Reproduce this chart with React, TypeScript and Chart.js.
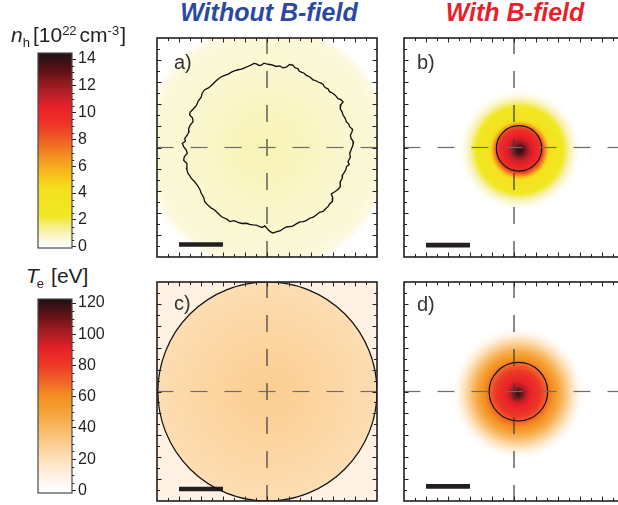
import React, { useEffect, useRef } from "react";
import { Chart, registerables } from "chart.js";

Chart.register(...registerables);
const FONT = "'Liberation Sans', Arial, Helvetica, sans-serif";
Chart.defaults.font.family = FONT;
const INK = "#231f20";

// ---------- colour scales ----------
const NH_STOP_VALUES = [0, 0.3, 1.3, 2.3, 4.3, 5.3, 6.3, 7.3, 8.5, 9.3, 10.3, 11.25, 12.3, 13.2, 14.2, 14.5];
const NH_STOP_COLORS = ["#ffffff", "#fdfbeb", "#f6f0a0", "#f2e723", "#f3e11f", "#f9c11a", "#f5a020", "#f07a22", "#ee4a26", "#ed3027", "#ec2228", "#c0202a", "#8a1a1e", "#5a1015", "#2a1215", "#1f1012"];
const TE_STOP_VALUES = [0, 10, 20, 30, 40, 50, 60, 70, 80, 90, 100, 110, 120, 123];
const TE_STOP_COLORS = ["#ffffff", "#fff0e0", "#fde0b9", "#fbcd8f", "#f8b863", "#f5a238", "#f49020", "#f06428", "#ee3a26", "#e82228", "#b01c22", "#701418", "#2d1113", "#1a1010"];

// colour bar ticks
const NH_TICKS = [0, 2, 4, 6, 8, 10, 12, 14];
const TE_TICKS = [0, 20, 40, 60, 80, 100, 120];
const NH_RANGE = [-0.1, 14.45];
const TE_RANGE = [-1.7, 122.6];

// panel axes (µm)
const AXIS_RANGE = [-50, 50];
const MAJOR_TICKS = [-40, -30, -20, -10, 0, 10, 20, 30, 40];
const MINOR_TICKS = [-45, -35, -25, -15, -5, 5, 15, 25, 35, 45];
const SCALE_BAR_X = [-40, -20];

// radial profiles (radius in µm -> value)
const PANEL_A_R = [0, 10, 20, 30, 40, 50, 54, 56, 57, 80];
const PANEL_A_NH = [1.0, 0.95, 0.85, 0.72, 0.62, 0.55, 0.45, 0.15, 0, 0];
const PANEL_B_R = [0, 1.5, 3, 5, 7, 9, 10.5, 11.5, 12.5, 13.5, 16, 19, 21, 23, 25, 26.5, 28, 80];
const PANEL_B_NH = [14.3, 13.5, 12.3, 11, 10.3, 9.5, 8.5, 7, 5.5, 4.3, 3.5, 2.6, 1.8, 1.0, 0.4, 0.1, 0, 0];
const PANEL_C_R = [0, 15, 30, 45, 49.6, 50.2, 60, 80];
const PANEL_C_TE = [29, 27.5, 25, 22.5, 21.5, 9, 8.5, 8];
const PANEL_D_R = [0, 1.5, 3, 4.5, 6.5, 9, 11, 13, 14.5, 16, 18, 20, 22, 24, 26, 28, 30, 80];
const PANEL_D_TE = [121, 112, 102, 94, 88, 84, 78, 70, 64, 58, 50, 42, 32, 22, 12, 4, 0, 0];

// centres and contour circles [cx, cy, r] in µm
const FIELD_CENTER_A = [0, 0];
const FIELD_CENTER_B = [2.6, -1.2];
const FIELD_CENTER_C = [0.2, 0];
const FIELD_CENTER_D = [1.9, -0.9];
const CIRCLE_B = [2.3, -0.4, 10.3];
const CIRCLE_C = [0.2, 0, 49.8];
const CIRCLE_D = [2.0, -0.1, 13.3];
const SCALE_BAR_Y = [-44.3, -44.6, -44.5, -43.3];

// irregular contour of panel a (µm)
const CONTOUR_A_X = [-4.8, -3.6, -2.6, -1.4, -0.3, 1.2, 2.7, 4.1, 5.8, 7.2, 8.8, 10.2, 11.8, 12.6, 14.1, 14.6, 15.6, 16.9, 17.9, 19.5, 20.9, 22.1, 23.2, 24.6, 25.5, 26.4, 27.7, 28.4, 29.7, 31.0, 32.3, 33.6, 34.6, 33.6, 33.3, 34.1, 34.6, 35.5, 36.1, 37.1, 37.6, 38.9, 38.6, 37.9, 38.2, 39.3, 39.1, 38.4, 37.6, 37.9, 36.8, 37.4, 36.1, 35.9, 35.3, 34.4, 34.2, 33.2, 33.3, 32.1, 30.8, 29.2, 29.9, 29.7, 28.6, 27.7, 26.5, 25.5, 23.9, 22.4, 20.8, 19.4, 17.8, 16.4, 14.9, 13.3, 11.7, 10.3, 8.8, 7.3, 6.1, 5.0, 3.8, 2.7, 1.5, 0.5, -0.4, -1.1, -2.2, -3.3, -4.9, -6.4, -7.8, -9.4, -11.3, -13.2, -15.0, -17.0, -18.1, -19.2, -20.8, -22.3, -23.9, -25.3, -26.8, -28.3, -28.8, -29.9, -30.4, -31.4, -33.0, -34.4, -35.0, -35.9, -36.6, -36.4, -37.9, -37.6, -36.2, -36.7, -37.9, -38.5, -37.1, -37.4, -36.3, -35.5, -35.6, -34.9, -33.6, -33.9, -35.2, -34.9, -33.5, -32.1, -31.2, -29.9, -29.5, -28.3, -26.6, -25.3, -24.0, -23.0, -21.2, -19.2, -17.6, -16.2, -14.5, -13.2, -11.6, -10.2, -8.5, -7.1, -6.0, -4.8];
const CONTOUR_A_Y = [38.2, 37.4, 37.6, 38.5, 38.2, 37.9, 37.6, 37.0, 37.3, 36.4, 36.7, 37.9, 37.6, 36.5, 35.9, 34.9, 34.4, 33.9, 32.9, 32.2, 30.9, 30.6, 29.9, 29.4, 28.8, 27.4, 26.8, 25.5, 24.9, 23.9, 22.3, 21.9, 20.8, 19.6, 17.7, 16.3, 14.7, 13.4, 11.7, 10.8, 9.4, 8.3, 7.1, 5.6, 4.1, 2.7, 1.1, -0.6, -2.7, -4.4, -6.5, -7.7, -8.8, -10.0, -11.1, -12.4, -14.1, -15.8, -17.9, -19.3, -20.2, -21.2, -22.9, -24.7, -25.6, -27.0, -28.1, -29.2, -29.6, -30.8, -31.9, -32.3, -33.4, -33.8, -34.0, -34.9, -35.9, -36.1, -36.3, -37.1, -38.0, -38.3, -38.6, -39.1, -38.4, -37.6, -36.4, -35.8, -36.5, -36.1, -35.4, -35.3, -35.1, -34.6, -34.7, -34.2, -33.4, -33.8, -32.8, -32.3, -31.5, -30.0, -28.4, -27.7, -26.4, -24.7, -22.7, -20.9, -19.4, -17.6, -15.5, -14.1, -13.1, -11.8, -9.6, -7.3, -5.8, -4.2, -2.6, -1.2, 0.4, 1.8, 2.9, 4.1, 5.6, 7.1, 8.7, 10.2, 11.8, 13.6, 14.9, 16.2, 17.6, 19.2, 21.3, 23.0, 24.8, 26.4, 27.2, 28.3, 29.6, 30.6, 32.1, 32.9, 33.5, 34.4, 35.1, 35.5, 35.8, 36.4, 37.1, 37.7, 38.4, 38.2];

// ---------- helpers ----------
function hexRgb(h: string): number[] {
  const n = parseInt(h.slice(1), 16);
  return [(n >> 16) & 255, (n >> 8) & 255, n & 255];
}
function interp(xs: number[], ys: number[], x: number): number {
  if (x <= xs[0]) return ys[0];
  for (let i = 1; i < xs.length; i++) {
    if (x <= xs[i]) {
      const t = (x - xs[i - 1]) / (xs[i] - xs[i - 1]);
      return ys[i - 1] + t * (ys[i] - ys[i - 1]);
    }
  }
  return ys[ys.length - 1];
}
function makeCmap(values: number[], colors: string[]) {
  const rgb = colors.map(hexRgb);
  return (v: number): number[] => {
    if (v <= values[0]) return rgb[0];
    for (let i = 1; i < values.length; i++) {
      if (v <= values[i]) {
        const t = (v - values[i - 1]) / (values[i] - values[i - 1]);
        return [0, 1, 2].map((k) => rgb[i - 1][k] + t * (rgb[i][k] - rgb[i - 1][k]));
      }
    }
    return rgb[rgb.length - 1];
  };
}

type PanelSpec = {
  profileR: number[];
  profileV: number[];
  stopV: number[];
  stopC: string[];
  center: number[];
  circle?: number[];
  contourX?: number[];
  contourY?: number[];
  barY: number;
};

function panelConfig(spec: PanelSpec): any {
  const cmap = makeCmap(spec.stopV, spec.stopC);
  const plugin = {
    id: "heatPanel",
    beforeDatasetsDraw(chart: any) {
      const { ctx, chartArea: a, scales } = chart;
      const xs = scales.x, ys = scales.y;
      const w = Math.round(a.right - a.left), h = Math.round(a.bottom - a.top);
      const off = document.createElement("canvas");
      off.width = w; off.height = h;
      const octx = off.getContext("2d")!;
      const img = octx.createImageData(w, h);
      for (let j = 0; j < h; j++) {
        const vy = ys.getValueForPixel(a.top + j + 0.5) - spec.center[1];
        for (let i = 0; i < w; i++) {
          const vx = xs.getValueForPixel(a.left + i + 0.5) - spec.center[0];
          const v = interp(spec.profileR, spec.profileV, Math.hypot(vx, vy));
          const c = cmap(v);
          const k = (j * w + i) * 4;
          img.data[k] = c[0]; img.data[k + 1] = c[1]; img.data[k + 2] = c[2]; img.data[k + 3] = 255;
        }
      }
      octx.putImageData(img, 0, 0);
      ctx.drawImage(off, a.left, a.top);
    },
    afterDatasetsDraw(chart: any) {
      const { ctx, chartArea: a, scales } = chart;
      const xs = scales.x, ys = scales.y;
      const ppu = xs.getPixelForValue(1) - xs.getPixelForValue(0);
      ctx.save();
      ctx.beginPath();
      ctx.rect(a.left, a.top, a.right - a.left, a.bottom - a.top);
      ctx.clip();
      if (spec.circle) {
        ctx.beginPath();
        ctx.arc(xs.getPixelForValue(spec.circle[0]), ys.getPixelForValue(spec.circle[1]), spec.circle[2] * ppu, 0, Math.PI * 2);
        ctx.lineWidth = 1.2;
        ctx.strokeStyle = "#141414";
        ctx.stroke();
      }
      const px0 = xs.getPixelForValue(0), py0 = ys.getPixelForValue(0);
      ctx.lineWidth = 1.2;
      ctx.setLineDash([17, 17]);
      ctx.lineDashOffset = 8.5;
      const seg = (x2: number, y2: number) => {
        ctx.beginPath(); ctx.moveTo(px0, py0); ctx.lineTo(x2, y2); ctx.stroke();
      };
      ctx.strokeStyle = "#3a3a3a";
      seg(px0, a.top); seg(px0, a.bottom);
      ctx.strokeStyle = "#6c6c6c";
      seg(a.left, py0); seg(a.right, py0);
      ctx.restore();

      ctx.save();
      ctx.strokeStyle = INK;
      ctx.lineWidth = 1;
      const drawTicks = (vals: number[], len: number) => {
        vals.forEach((v) => {
          const px = Math.round(xs.getPixelForValue(v)) + 0.5;
          const py = Math.round(ys.getPixelForValue(v)) + 0.5;
          ctx.beginPath();
          ctx.moveTo(px, a.top); ctx.lineTo(px, a.top + len);
          ctx.moveTo(px, a.bottom); ctx.lineTo(px, a.bottom - len);
          ctx.moveTo(a.left, py); ctx.lineTo(a.left + len, py);
          ctx.moveTo(a.right, py); ctx.lineTo(a.right - len, py);
          ctx.stroke();
        });
      };
      drawTicks(MAJOR_TICKS, 4.5);
      drawTicks(MINOR_TICKS, 3);
      ctx.lineWidth = 1.6;
      ctx.strokeRect(a.left, a.top, a.right - a.left, a.bottom - a.top);
      ctx.restore();
    },
  };
  const datasets: any[] = [];
  if (spec.contourX && spec.contourY) {
    datasets.push({
      data: spec.contourX.map((x, i) => ({ x, y: spec.contourY![i] })),
      showLine: true, borderColor: "#0d0d0d", borderWidth: 1.3, pointRadius: 0, tension: 0, fill: false,
    });
  }
  datasets.push({
    data: SCALE_BAR_X.map((x) => ({ x, y: spec.barY })),
    showLine: true, borderColor: INK, borderWidth: 4.6, pointRadius: 0, borderCapStyle: "butt", fill: false,
  });
  return {
    type: "scatter",
    data: { datasets },
    options: {
      responsive: false,
      animation: false,
      events: [],
      layout: { padding: 6 },
      plugins: { legend: { display: false }, tooltip: { enabled: false } },
      scales: {
        x: { type: "linear", min: AXIS_RANGE[0], max: AXIS_RANGE[1], display: false },
        y: { type: "linear", min: AXIS_RANGE[0], max: AXIS_RANGE[1], display: false },
      },
    },
    plugins: [plugin],
  };
}

function colorbarConfig(stopV: number[], stopC: string[], range: number[], ticks: number[], minorStep: number): any {
  const plugin = {
    id: "cbar",
    beforeDatasetsDraw(chart: any) {
      const { ctx, chartArea: a, scales } = chart;
      const y = scales.y;
      const g = ctx.createLinearGradient(0, a.bottom, 0, a.top);
      stopV.forEach((v, i) => {
        const p = (a.bottom - y.getPixelForValue(v)) / (a.bottom - a.top);
        g.addColorStop(Math.min(1, Math.max(0, p)), stopC[i]);
      });
      ctx.fillStyle = g;
      ctx.fillRect(a.left, a.top, a.right - a.left, a.bottom - a.top);
    },
    afterDraw(chart: any) {
      const { ctx, chartArea: a, scales } = chart;
      const y = scales.y;
      ctx.save();
      ctx.strokeStyle = INK;
      ctx.lineWidth = 1;
      for (let v = ticks[0]; v <= range[1]; v += minorStep) {
        if (ticks.some((t) => Math.abs(t - v) < 1e-6)) continue;
        const py = Math.round(y.getPixelForValue(v)) + 0.5;
        ctx.beginPath(); ctx.moveTo(a.right, py); ctx.lineTo(a.right + 2.3, py); ctx.stroke();
      }
      ctx.strokeStyle = "#4a4a4a";
      ctx.lineWidth = 1.2;
      ctx.strokeRect(a.left, a.top, a.right - a.left, a.bottom - a.top);
      ctx.restore();
    },
  };
  return {
    type: "scatter",
    data: { datasets: [] },
    options: {
      responsive: false,
      animation: false,
      events: [],
      layout: { padding: { left: 8, right: 18, top: 10, bottom: 10 } },
      plugins: { legend: { display: false }, tooltip: { enabled: false } },
      scales: {
        x: { type: "linear", min: 0, max: 1, display: false },
        y: {
          type: "linear",
          position: "right",
          min: range[0],
          max: range[1],
          afterBuildTicks: (s: any) => { s.ticks = ticks.map((v) => ({ value: v })); },
          afterFit: (s: any) => { s.width = 40; s.paddingTop = 0; s.paddingBottom = 0; },
          ticks: { font: { size: 16, family: FONT }, color: INK, padding: 2 },
          grid: { drawOnChartArea: false, drawTicks: true, tickLength: 4, tickColor: INK, tickWidth: 1 },
          border: { display: false },
        },
      },
    },
    plugins: [plugin],
  };
}

function ChartCanvas(props: { left: number; top: number; width: number; height: number; make: () => any }) {
  const ref = useRef<HTMLCanvasElement>(null);
  useEffect(() => {
    const chart = new Chart(ref.current!, props.make());
    return () => chart.destroy();
  }, []);
  return (
    <canvas
      ref={ref}
      width={props.width}
      height={props.height}
      style={{ position: "absolute", left: props.left, top: props.top, width: props.width, height: props.height }}
    />
  );
}

const textBase: React.CSSProperties = { position: "absolute", fontFamily: FONT, whiteSpace: "nowrap", color: INK };

export default function App() {
  const pw = 232, ph = 231;
  return (
    <div style={{ position: "fixed", left: 0, top: 0, width: 618, height: 505, overflow: "hidden", background: "#ffffff" }}>
      <ChartCanvas left={151} top={32} width={pw} height={ph} make={() => panelConfig({
        profileR: PANEL_A_R, profileV: PANEL_A_NH, stopV: NH_STOP_VALUES, stopC: NH_STOP_COLORS,
        center: FIELD_CENTER_A, contourX: CONTOUR_A_X, contourY: CONTOUR_A_Y, barY: SCALE_BAR_Y[0],
      })} />
      <ChartCanvas left={398} top={32} width={pw} height={ph} make={() => panelConfig({
        profileR: PANEL_B_R, profileV: PANEL_B_NH, stopV: NH_STOP_VALUES, stopC: NH_STOP_COLORS,
        center: FIELD_CENTER_B, circle: CIRCLE_B, barY: SCALE_BAR_Y[1],
      })} />
      <ChartCanvas left={151} top={276} width={pw} height={ph} make={() => panelConfig({
        profileR: PANEL_C_R, profileV: PANEL_C_TE, stopV: TE_STOP_VALUES, stopC: TE_STOP_COLORS,
        center: FIELD_CENTER_C, circle: CIRCLE_C, barY: SCALE_BAR_Y[2],
      })} />
      <ChartCanvas left={398} top={276} width={pw} height={ph} make={() => panelConfig({
        profileR: PANEL_D_R, profileV: PANEL_D_TE, stopV: TE_STOP_VALUES, stopC: TE_STOP_COLORS,
        center: FIELD_CENTER_D, circle: CIRCLE_D, barY: SCALE_BAR_Y[3],
      })} />
      <ChartCanvas left={30} top={43} width={100} height={215}
        make={() => colorbarConfig(NH_STOP_VALUES, NH_STOP_COLORS, NH_RANGE, NH_TICKS, 0.5)} />
      <ChartCanvas left={30} top={289} width={100} height={214}
        make={() => colorbarConfig(TE_STOP_VALUES, TE_STOP_COLORS, TE_RANGE, TE_TICKS, 5)} />

      <div style={{ ...textBase, left: 119, top: -0.5, width: 300, textAlign: "center", fontSize: 25, lineHeight: "25px", fontWeight: "bold", fontStyle: "italic", color: "#2a4aa0" }}>
        Without B-field
      </div>
      <div style={{ ...textBase, left: 365, top: -0.5, width: 300, textAlign: "center", fontSize: 25, lineHeight: "25px", fontWeight: "bold", fontStyle: "italic", color: "#ea1f2b" }}>
        With B-field
      </div>

      <div style={{ ...textBase, left: 11, top: 23.8, fontSize: 21, lineHeight: "21px" }}>
        <i>n</i>
        <span style={{ position: "relative", top: 5, fontSize: 13 }}>h</span>
        <span style={{ marginLeft: 3 }}>[10</span>
        <span style={{ position: "relative", top: -7, fontSize: 13 }}>22</span>
        <span style={{ marginLeft: 3 }}>cm</span>
        <span style={{ position: "relative", top: -7, fontSize: 13 }}>-3</span>
        <span style={{ marginLeft: 1 }}>]</span>
      </div>
      <div style={{ ...textBase, left: 26, top: 265.3, fontSize: 21, lineHeight: "21px" }}>
        <i>T</i>
        <span style={{ position: "relative", top: 5, fontSize: 13, marginLeft: -2 }}>e</span>
        <span style={{ marginLeft: 7 }}>[eV]</span>
      </div>

      <div style={{ ...textBase, left: 174, top: 52, fontSize: 20, lineHeight: "20px", color: "#333333" }}>a)</div>
      <div style={{ ...textBase, left: 417, top: 52, fontSize: 20, lineHeight: "20px", color: "#333333" }}>b)</div>
      <div style={{ ...textBase, left: 174, top: 293, fontSize: 20, lineHeight: "20px", color: "#333333" }}>c)</div>
      <div style={{ ...textBase, left: 417, top: 294, fontSize: 20, lineHeight: "20px", color: "#333333" }}>d)</div>
    </div>
  );
}
